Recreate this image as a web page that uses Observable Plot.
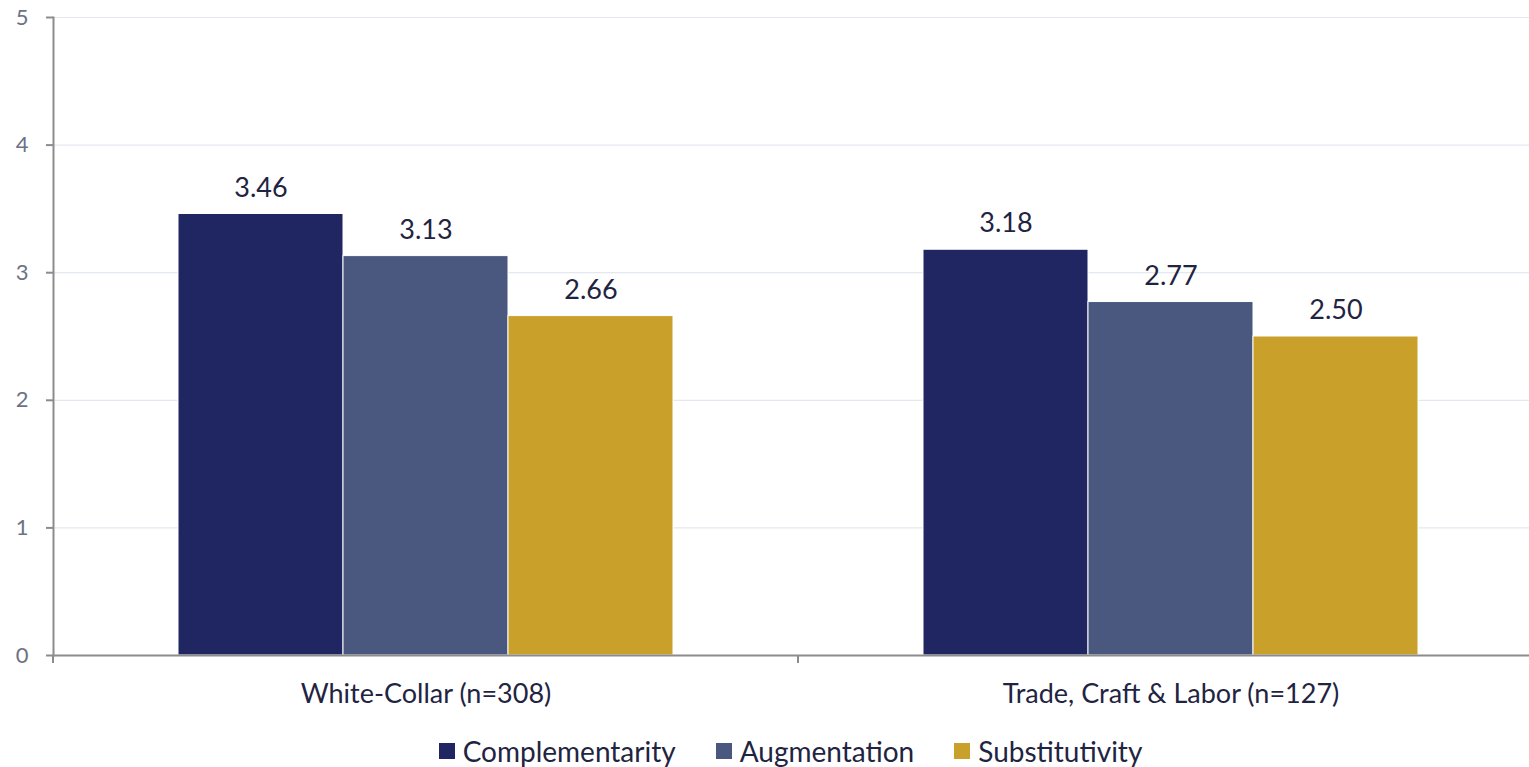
<!DOCTYPE html>
<html>
<head>
<meta charset="utf-8">
<script src="https://cdn.jsdelivr.net/npm/d3@7"></script>
<script src="https://cdn.jsdelivr.net/npm/@observablehq/plot@0.6"></script>
<style>
  html, body { margin: 0; padding: 0; background: #fff; }
  body { width: 1529px; height: 767px; overflow: hidden; font-family: Lato, "Open Sans", sans-serif; }
  .lg-swatches { justify-content: center; margin-left: 0 !important; padding-left: 52px; box-sizing: border-box; }
  .lg-swatch { margin-right: 40px !important; }
  .lg-swatch:last-child { margin-right: 0 !important; }
  .lg-swatch svg { margin-right: 8px !important; }
</style>
</head>
<body>
<div id="chart"></div>
<div id="legend"></div>
<script>
const categories = ["White-Collar (n=308)", "Trade, Craft & Labor (n=127)"];
const series = ["Complementarity", "Augmentation", "Substitutivity"];
const complementarity = [3.46, 3.18];
const augmentation = [3.13, 2.77];
const substitutivity = [2.66, 2.50];
const yTicks = [0, 1, 2, 3, 4, 5];
const colors = ["#1f2662", "#4a577e", "#c9a12a"];

const valuesBySeries = [complementarity, augmentation, substitutivity];
const data = [];
categories.forEach((cat, i) => {
  series.forEach((s, j) => data.push({cat, series: s, value: valuesBySeries[j][i]}));
});

const FONT = "Lato, 'Open Sans', sans-serif";
const AXIS = "#8c8c8c";

const plot = Plot.plot({
  width: 1529,
  height: 720,
  marginTop: 17,
  marginBottom: 65,
  marginLeft: 53,
  marginRight: -14,
  style: {fontFamily: FONT, background: "#fff", overflow: "visible"},
  fx: {domain: categories, padding: 0, label: null},
  x: {domain: series, paddingInner: 0, paddingOuter: 0.754, axis: null},
  y: {domain: [0, 5], label: null},
  color: {domain: series, range: colors},
  marks: [
    Plot.gridY(yTicks.filter(d => d > 0), {stroke: "#e3e8f1", strokeOpacity: 1, strokeWidth: 1.2}),
    Plot.barY(data, {fx: "cat", x: "series", y: "value", fill: "series", stroke: "#ffffff", strokeWidth: 1}),
    Plot.ruleY([0], {stroke: AXIS, strokeWidth: 2}),
    Plot.frame({anchor: "left", facetAnchor: "left", stroke: AXIS, strokeWidth: 2}),
    Plot.axisY(yTicks, {tickSize: 7, tickPadding: 18, fontSize: 22, stroke: AXIS, strokeWidth: 2, fill: "#6b7285", tickFormat: d => String(d), label: null}),
    Plot.axisFx({anchor: "bottom", tickSize: 0, tickPadding: 28, fontSize: 27, fill: "#1f2442", label: null}),
    Plot.text(data, {fx: "cat", x: "series", y: "value", text: d => d.value.toFixed(2), dy: -26, fontSize: 27, fill: "#1f2442"})
  ]
});

// category divider ticks along the bottom axis, placed with the plot's own scales
const fxs = plot.scale("fx");
const ys = plot.scale("y");
const y0 = ys.apply(0);
const edges = categories.map(c => fxs.apply(c));
edges.push(fxs.apply(categories[categories.length - 1]) + fxs.bandwidth);
const svg = d3.select(plot);
svg.append("g").selectAll("line").data(edges).join("line")
  .attr("x1", d => d).attr("x2", d => d)
  .attr("y1", y0).attr("y2", y0 + 8)
  .attr("stroke", AXIS).attr("stroke-width", 2);

document.getElementById("chart").appendChild(plot);

const legend = plot.legend("color", {
  className: "lg",
  swatchSize: 16,
  style: {fontFamily: FONT, fontSize: "28px", color: "#1f2442", height: "62px", alignItems: "center"}
});
document.getElementById("legend").appendChild(legend);
</script>
</body>
</html>
